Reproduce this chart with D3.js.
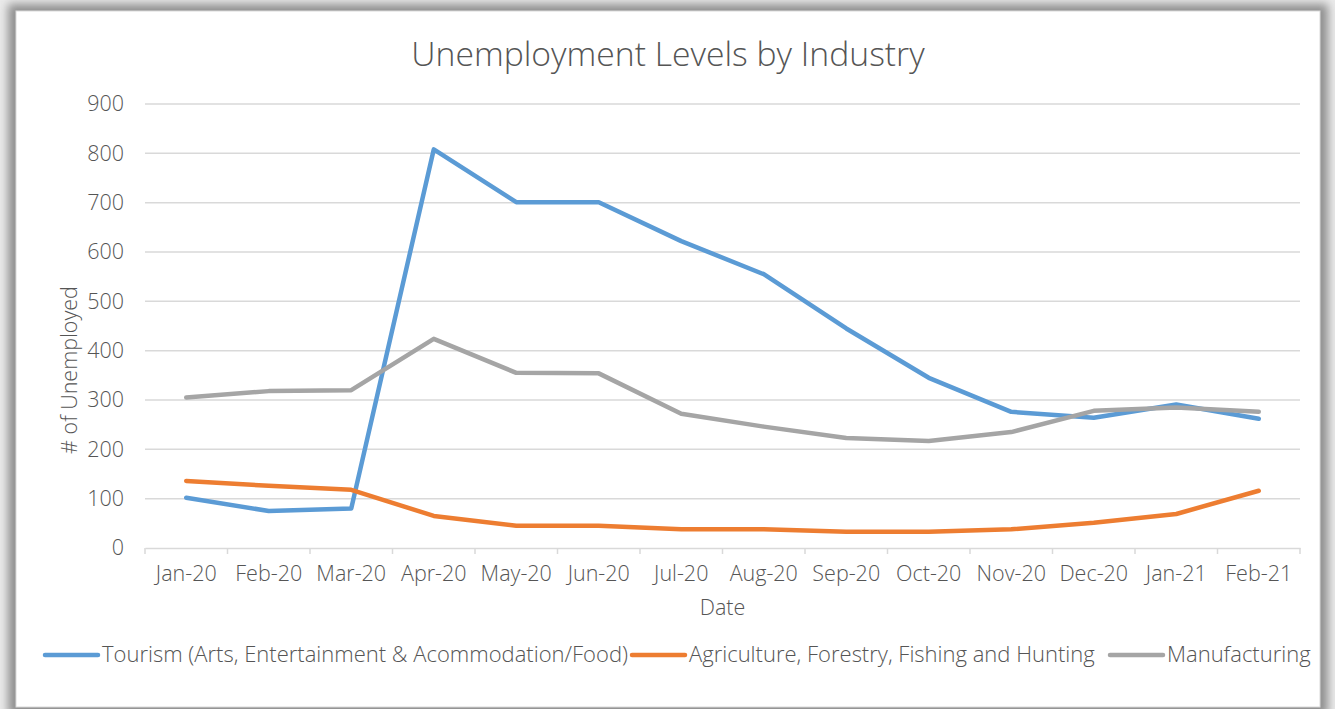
<!DOCTYPE html>
<html><head><meta charset="utf-8">
<script src="https://cdn.jsdelivr.net/npm/d3@7"></script>
<style>
html,body{margin:0;padding:0;background:#fff;}
svg{display:block;font-family:"Open Sans",sans-serif;}
</style></head>
<body>
<svg id="chart" width="1335" height="709"></svg>
<script>
const categories = ["Jan-20","Feb-20","Mar-20","Apr-20","May-20","Jun-20","Jul-20","Aug-20","Sep-20","Oct-20","Nov-20","Dec-20","Jan-21","Feb-21"];
const tourism = [102, 75, 80, 808, 701, 701, 622, 555, 445, 345, 276, 264, 291, 262];
const agriculture = [136, 126, 118, 65, 45, 45, 38, 38, 33, 33, 38, 51, 69, 116];
const manufacturing = [305, 318, 320, 424, 355, 354, 272, 246, 223, 217, 235, 278, 285, 276];
const seriesNames = ["Tourism (Arts, Entertainment & Acommodation/Food)", "Agriculture, Forestry, Fishing and Hunting", "Manufacturing"];
const seriesColors = ["#5B9BD5", "#ED7D31", "#A5A5A5"];
const yTicks = [0,100,200,300,400,500,600,700,800,900];
const titleText = "Unemployment Levels by Industry";
const xTitle = "Date";
const yTitle = "# of Unemployed";

(function(){
const FS = 21.5;
const TXT = "#555555";
const svg = d3.select("#chart");
const defs = svg.append("defs");
const f = defs.append("filter").attr("id","sh").attr("x","-5%").attr("y","-5%").attr("width","110%").attr("height","110%");
f.append("feGaussianBlur").attr("stdDeviation",5);

// shadow + card
svg.append("rect").attr("x",0).attr("y",0).attr("width",1335).attr("height",709).attr("fill","#ebebeb");
svg.append("rect").attr("x",8).attr("y",4).attr("width",1320).attr("height",712).attr("fill","#8f8f8f").attr("filter","url(#sh)");
svg.append("rect").attr("x",16).attr("y",11).attr("width",1304).attr("height",696).attr("fill","#fff").attr("stroke","#d9d9d9").attr("stroke-width",1);

const pLeft = 145, pRight = 1300, pTop = 104, pBottom = 548;
const x = d3.scaleBand().domain(categories).range([pLeft, pRight]);
const y = d3.scaleLinear().domain([0, 900]).range([pBottom, pTop]);

svg.append("g").selectAll("line").data(yTicks.filter(d=>d>0)).join("line")
  .attr("x1",pLeft).attr("x2",pRight).attr("y1",d=>y(d)).attr("y2",d=>y(d))
  .attr("stroke","#d9d9d9").attr("stroke-width",1.5);

const yAxis = svg.append("g").attr("transform",`translate(${pLeft},0)`)
  .call(d3.axisLeft(y).tickValues(yTicks).tickSize(0).tickPadding(21));
yAxis.select(".domain").remove();
yAxis.selectAll("text").attr("font-size",FS).attr("fill",TXT).attr("font-family","'Open Sans',sans-serif").attr("font-weight",300);

const xAxis = svg.append("g").attr("transform",`translate(0,${pBottom})`)
  .call(d3.axisBottom(x).tickSize(0).tickPadding(18));
xAxis.select(".domain").attr("stroke","#d9d9d9").attr("stroke-width",1.5);
xAxis.selectAll("text").attr("font-size",FS).attr("fill",TXT).attr("font-family","'Open Sans',sans-serif").attr("font-weight",300);
const bounds = categories.map(c=>x(c)).concat([pRight]);
svg.append("g").selectAll("line").data(bounds).join("line")
  .attr("x1",d=>d).attr("x2",d=>d).attr("y1",pBottom).attr("y2",pBottom+6)
  .attr("stroke","#d9d9d9").attr("stroke-width",1.5);

const allSeries = [tourism, agriculture, manufacturing];
const line = d3.line().x((d,i)=>x(categories[i])+x.bandwidth()/2).y(d=>y(d));
svg.append("g").selectAll("path").data(allSeries).join("path")
  .attr("d",line).attr("fill","none")
  .attr("stroke",(d,i)=>seriesColors[i]).attr("stroke-width",4.5)
  .attr("stroke-linejoin","round").attr("stroke-linecap","round");

svg.append("text").attr("x",668).attr("y",66).attr("text-anchor","middle")
  .attr("font-size",33.7).attr("font-weight",300).attr("fill",TXT).text(titleText);
svg.append("text").attr("x",(pLeft+pRight)/2).attr("y",615).attr("text-anchor","middle")
  .attr("font-size",FS).attr("font-weight",300).attr("fill",TXT).text(xTitle);
svg.append("text").attr("transform",`translate(77,370) rotate(-90)`).attr("text-anchor","middle")
  .attr("font-size",FS).attr("font-weight",300).attr("fill",TXT).text(yTitle);

const legX = [45, 632, 1110];
const lg = svg.append("g").selectAll("g").data(seriesNames).join("g")
  .attr("transform",(d,i)=>`translate(${legX[i]},655)`);
lg.append("line").attr("x1",0).attr("x2",53).attr("y1",0).attr("y2",0)
  .attr("stroke",(d,i)=>seriesColors[i]).attr("stroke-width",4.5).attr("stroke-linecap","round");
lg.append("text").attr("x",57).attr("y",7).attr("font-size",22).attr("font-weight",300).attr("fill",TXT).text(d=>d);
})();
</script>
</body></html>
